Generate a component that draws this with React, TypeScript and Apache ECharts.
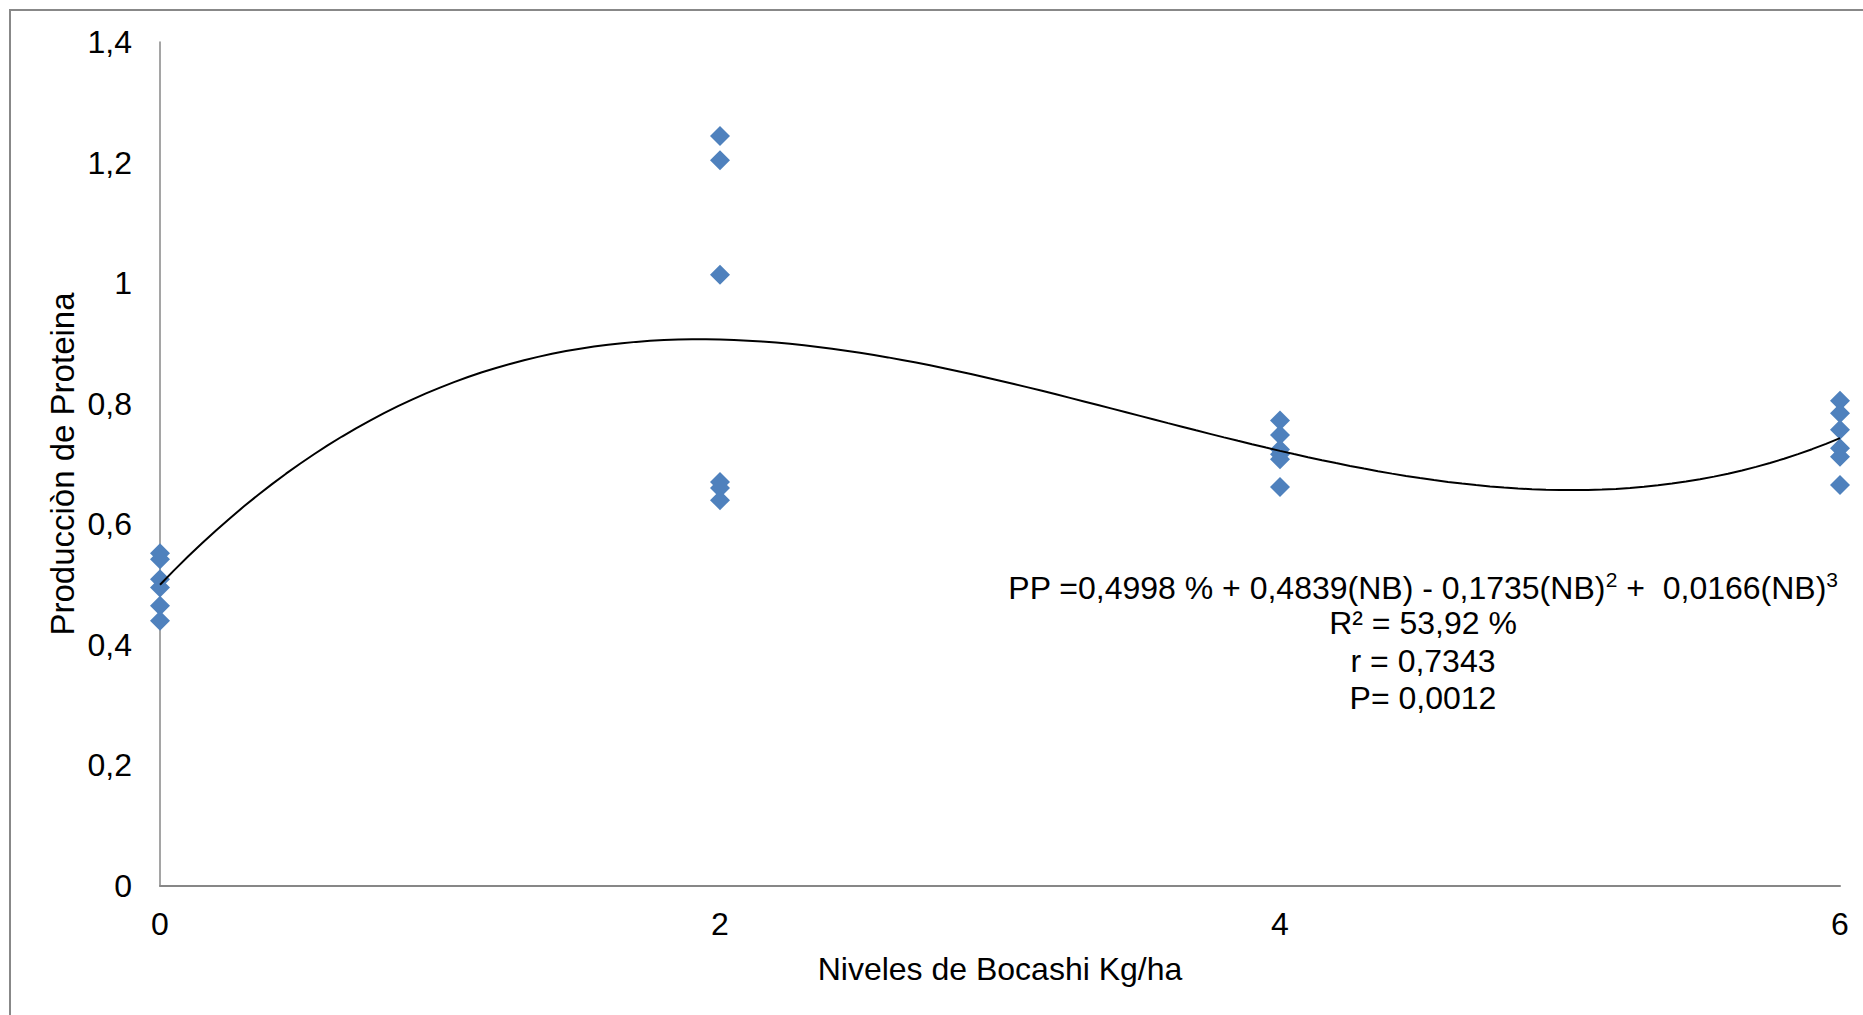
import React, { useEffect, useRef } from "react";
import * as echarts from "echarts";

const xLevels = [0, 2, 4, 6];
const yAt0 = [0.552, 0.542, 0.509, 0.495, 0.465, 0.44];
const yAt2 = [1.244, 1.204, 1.014, 0.67, 0.66, 0.64];
const yAt4 = [0.772, 0.748, 0.724, 0.716, 0.708, 0.662];
const yAt6 = [0.805, 0.784, 0.757, 0.726, 0.712, 0.665];
const groups = [yAt0, yAt2, yAt4, yAt6];

// Printed cubic regression: PP = b0 + b1*NB + b2*NB^2 + b3*NB^3
const coefficients = [0.4998, 0.4839, -0.1735, 0.0166];

const xAxisTitle = "Niveles de Bocashi Kg/ha";
const yAxisTitle = "Producciòn de Proteina";
const equationLine = "PP =0,4998 % + 0,4839(NB) - 0,1735(NB){s|2} +  0,0166(NB){s|3}";
const statLines = ["R² = 53,92 %", "r = 0,7343", "P= 0,0012"];

const FONT = "'Liberation Sans', Arial, Helvetica, sans-serif";

export default function App() {
  const ref = useRef<HTMLDivElement>(null);

  useEffect(() => {
    if (!ref.current) return;
    const chart = echarts.init(ref.current, undefined, { renderer: "svg" });

    const scatterData: number[][] = [];
    groups.forEach((vals, i) => vals.forEach((v) => scatterData.push([xLevels[i], v])));

    const trend: number[][] = [];
    for (let k = 0; k <= 120; k++) {
      const x = (k * 6) / 120;
      const y =
        coefficients[0] +
        coefficients[1] * x +
        coefficients[2] * x * x +
        coefficients[3] * x * x * x;
      trend.push([x, y]);
    }

    const fmt = (v: number) => String(Math.round(v * 10) / 10).replace(".", ",");

    chart.setOption({
      animation: false,
      backgroundColor: "#ffffff",
      textStyle: { fontFamily: FONT },
      grid: { left: 160, right: 23, top: 42, bottom: 129, containLabel: false },
      xAxis: {
        type: "value",
        min: 0,
        max: 6,
        interval: 2,
        axisLine: { show: true, lineStyle: { color: "#878787", width: 2 } },
        axisTick: { show: false },
        splitLine: { show: false },
        axisLabel: { color: "#000", fontSize: 32, fontFamily: FONT, margin: 22 },
      },
      yAxis: {
        type: "value",
        min: 0,
        max: 1.4,
        interval: 0.2,
        axisLine: { show: true, lineStyle: { color: "#878787", width: 1.5 } },
        axisTick: { show: false },
        splitLine: { show: false },
        axisLabel: {
          color: "#000",
          fontSize: 32,
          fontFamily: FONT,
          margin: 28,
          formatter: fmt,
        },
      },
      series: [
        {
          type: "scatter",
          data: scatterData,
          symbol: "diamond",
          symbolSize: 20,
          itemStyle: { color: "#4F81BD", opacity: 1 },
          z: 2,
        },
        {
          type: "line",
          data: trend,
          showSymbol: false,
          symbol: "none",
          lineStyle: { color: "#000", width: 2 },
          z: 3,
        },
      ],
      graphic: [
        {
          type: "rect",
          shape: { x: 10, y: 10, width: 1900, height: 1100 },
          style: { fill: "none", stroke: "#888888", lineWidth: 2 },
          silent: true,
        },
        {
          type: "text",
          x: 1000,
          y: 969,
          style: {
            text: xAxisTitle,
            font: `32px ${FONT}`,
            fill: "#000",
            align: "center",
            verticalAlign: "middle",
            textAlign: "center",
            textVerticalAlign: "middle",
          },
        },
        {
          type: "text",
          x: 62,
          y: 464,
          rotation: Math.PI / 2,
          style: {
            text: yAxisTitle,
            font: `33px ${FONT}`,
            fill: "#000",
            align: "center",
            verticalAlign: "middle",
            textAlign: "center",
            textVerticalAlign: "middle",
          },
        },
        {
          type: "text",
          x: 1423,
          y: 588,
          style: {
            text: equationLine,
            font: `32px ${FONT}`,
            fontSize: 32,
            fontFamily: FONT,
            fill: "#000",
            align: "center",
            verticalAlign: "middle",
            textAlign: "center",
            textVerticalAlign: "middle",
            lineHeight: 38,
            rich: {
              s: { fontSize: 21, fontFamily: FONT, verticalAlign: "top", lineHeight: 22 },
            },
          },
        },
        ...statLines.map((t, i) => ({
          type: "text",
          x: 1423,
          y: 623 + i * 37.5,
          style: {
            text: t,
            font: `32px ${FONT}`,
            fill: "#000",
            align: "center",
            verticalAlign: "middle",
            textAlign: "center",
            textVerticalAlign: "middle",
          },
        })),
      ],
    });

    return () => chart.dispose();
  }, []);

  return (
    <div
      ref={ref}
      style={{ position: "fixed", left: 0, top: 0, width: 1863, height: 1015, background: "#fff" }}
    />
  );
}
